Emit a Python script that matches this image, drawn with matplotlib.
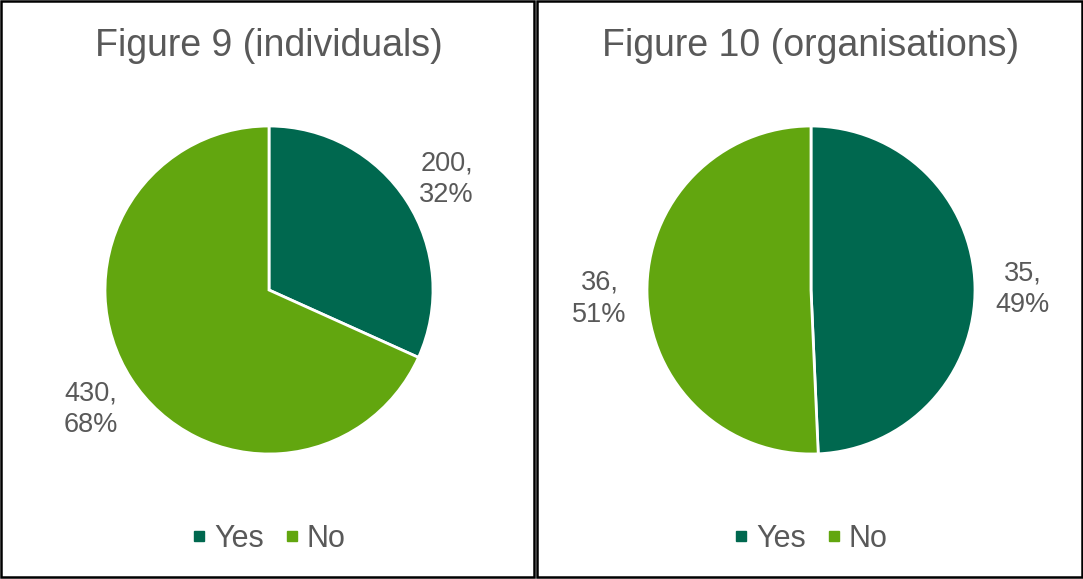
import matplotlib.pyplot as plt
from matplotlib.lines import Line2D
from matplotlib.patches import Rectangle

plt.rcParams['font.family'] = ['Liberation Sans', 'DejaVu Sans']

# ---- data ----
CATEGORIES = ["Yes", "No"]
TITLES = ["Figure 9 (individuals)", "Figure 10 (organisations)"]
INDIVIDUALS = [200, 430]
ORGANISATIONS = [35, 36]

COLORS = ["#00684F", "#62A60F"]
TEXT_GRAY = "#595959"

W, H = 1083, 579
fig = plt.figure(figsize=(W / 100, H / 100), dpi=100)
fig.patch.set_facecolor("white")

# panel boxes (pixels: left, top, right, bottom)
panels = [(1, 1, 534, 577), (537, 1, 1082, 577)]
pie_centres = [(269, 290), (811, 290)]
R_PX = 164
LIM = 1.5


def px_box(x0, y0, x1, y1):
    return (x0 / W, 1 - y1 / H, (x1 - x0) / W, (y1 - y0) / H)


for (x0, y0, x1, y1) in panels:
    l, b, w, h = px_box(x0, y0, x1, y1)
    fig.patches.append(Rectangle((l, b), w, h, transform=fig.transFigure,
                                 fill=False, edgecolor="black", linewidth=1.8))

for title, values, (cx, cy), (x0, y0, x1, y1) in zip(
        TITLES, [INDIVIDUALS, ORGANISATIONS], pie_centres, panels):
    half = R_PX * LIM
    ax = fig.add_axes(px_box(cx - half, cy - half, cx + half, cy + half))
    total = sum(values)
    labels = [f"{v},\n{v / total * 100:.0f}%" for v in values]
    wedges, texts = ax.pie(values, colors=COLORS, startangle=90, counterclock=False,
                           labels=labels, labeldistance=1.29,
                           wedgeprops=dict(edgecolor="white", linewidth=2),
                           textprops=dict(fontsize=19.5, color=TEXT_GRAY))
    for t in texts:
        t.set_ha("center")
        t.set_va("center")
        t.set_linespacing(1.28)
        # nudge labels down a touch so the two lines sit centred on the slice direction
        x, y = t.get_position()
        t.set_position((x, y - 0.025))
    ax.set_xlim(-LIM, LIM)
    ax.set_ylim(-LIM, LIM)
    ax.set_aspect("equal")
    ax.axis("off")

    fig.text(cx / W, 1 - 46 / H, title, ha="center", va="center",
             fontsize=27, color=TEXT_GRAY)

    handles = [Line2D([], [], linestyle="none", marker="s", markersize=7.5,
                      markerfacecolor=c, markeredgecolor=c) for c in COLORS]
    fig.legend(handles, CATEGORIES, loc="center", ncol=2, frameon=False,
               bbox_to_anchor=(cx / W, 1 - 539 / H), fontsize=22,
               labelcolor=TEXT_GRAY, handlelength=0.45, handletextpad=0.25,
               columnspacing=0.7, borderpad=0)

fig.savefig("out.png", dpi=100, facecolor="white")
